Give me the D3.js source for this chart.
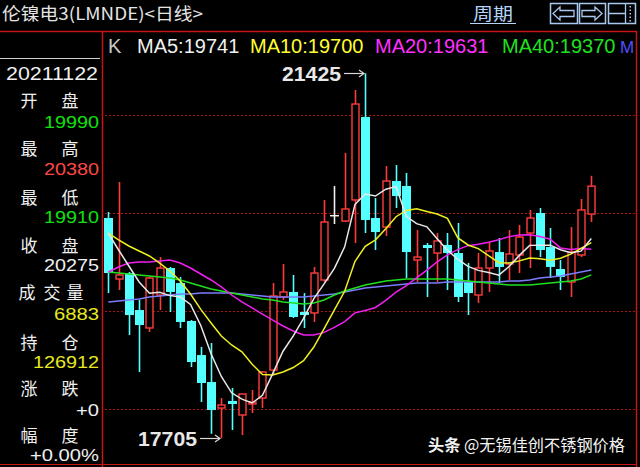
<!DOCTYPE html>
<html><head><meta charset="utf-8">
<script src="https://cdn.jsdelivr.net/npm/d3@7"></script>
<style>
html,body{margin:0;padding:0;background:#000;}
svg{display:block;}
</style></head><body>
<svg id="c" width="640" height="467"></svg>
<script>
// ---- data ----
const days = d3.range(1, 49);
const opens  = [19950,19328,19389,19012,18829,19165,19440,19287,18900,18553,18278,18013,18085,17942,18054,18115,18400,19145,19196,18992,18982,19318,19981,19919,20134,20980,19950,19858,20327,20276,19522,19675,19593,19675,19593,19298,19165,19440,19603,19481,19573,19797,20001,19654,19430,19298,19573,19990];
const highs  = [20011,20317,19400,19114,19350,19552,19451,19349,18910,18635,18676,18115,18217,18160,18197,18390,19287,19481,19369,19185,19451,20134,20276,20613,21255,21425,20154,20480,20490,20409,19828,19695,19797,19797,19899,19491,19593,19705,19746,19828,19879,20032,20052,19848,19522,19858,20144,20380];
const lows   = [19185,19216,18757,18380,18788,19012,18992,18829,18431,18074,17750,17705,17789,17738,17962,18013,18350,19114,18931,18829,18890,19298,19889,19909,19695,19797,19624,19767,20052,19338,19298,19145,19298,19216,19094,18961,19084,19196,19287,19318,19389,19440,19552,19338,19216,19145,19552,19910];
const closes = [19389,19369,18961,18859,19338,19440,19196,18890,18482,18268,17993,18044,18054,18156,18074,18380,19155,19196,18941,18961,19389,19909,19981,20042,21112,19930,19807,20327,20174,19603,19552,19644,19716,19593,19145,19185,19440,19614,19451,19583,19756,19950,19624,19451,19349,19603,20032,20275];
const ma5  = [19797,19624,19461,19298,19183,19193,19159,19145,19069,18855,18566,18335,18168,18103,18064,18142,18364,18592,18749,18927,19128,19279,19436,19656,20087,20195,20174,20244,20270,19968,19893,19860,19738,19622,19530,19457,19416,19395,19367,19455,19569,19671,19673,19673,19626,19595,19612,19741];
const ma10 = [19797,19726,19665,19614,19563,19491,19410,19308,19175,19019,18880,18747,18656,18586,18460,18354,18350,18380,18426,18495,18635,18822,19014,19203,19507,19662,19727,19840,19963,20027,20044,20017,19991,19946,19749,19675,19638,19567,19494,19492,19513,19543,19534,19520,19540,19582,19641,19700];
const ma20 = [19400,19451,19491,19501,19501,19512,19522,19491,19440,19379,19318,19247,19165,19094,19033,18971,18910,18849,18798,18757,18757,18784,18835,18894,18983,19008,19038,19110,19195,19261,19339,19419,19502,19574,19628,19668,19682,19703,19729,19760,19778,19780,19762,19733,19645,19628,19640,19631];
const ma40 = [19400,19389,19379,19369,19359,19349,19338,19318,19287,19257,19226,19206,19185,19165,19145,19124,19114,19094,19084,19073,19084,19114,19165,19206,19236,19267,19287,19308,19318,19328,19328,19328,19328,19328,19318,19308,19298,19287,19277,19267,19267,19267,19277,19287,19298,19308,19328,19370];
const ma60 = [19094,19104,19114,19124,19145,19155,19165,19175,19175,19185,19185,19185,19185,19175,19165,19155,19145,19145,19145,19145,19155,19165,19175,19196,19216,19236,19247,19257,19267,19277,19287,19287,19287,19298,19298,19298,19298,19298,19298,19308,19308,19318,19338,19349,19359,19379,19400,19420];
const gridPrices = [18000, 19000, 20000, 21000];
const legendItems = [
  {t:"K", c:"#c8c8c8"},
  {t:"MA5:19741", c:"#f0f0f0"},
  {t:"MA10:19700", c:"#ffff30"},
  {t:"MA20:19631", c:"#ff30ff"},
  {t:"MA40:19370", c:"#20e020"},
  {t:"M", c:"#5050ff"}
];
const infoLabels = ["开盘","最高","最低","收盘","成交量","持仓","涨跌","幅度"];
const infoValues = ["19990","20380","19910","20275","6883","126912","+0","+0.00%"];
const infoDate = "20211122";
const title = "伦镍电3(LMNDE)<日线>";

// ---- scales ----
const svg = d3.select("#c");
const x = d3.scalePoint().domain(d3.range(48)).range([108.3, 591.3]);
const y = d3.scaleLinear().domain([18000, 21000]).range([409.3, 115]);

svg.append("rect").attr("width",640).attr("height",467).attr("fill","#000");

// title
svg.append("text").attr("x",2).attr("y",19.8).attr("fill","#e4e4e4")
  .attr("font-family","Noto Sans CJK SC").attr("font-size",17)
  .attr("textLength",201).attr("lengthAdjust","spacingAndGlyphs").text(title);
// 周期
svg.append("text").attr("x",473).attr("y",20).attr("fill","#b4d4fa")
  .attr("font-family","Noto Sans CJK SC").attr("font-size",17)
  .attr("textLength",40).attr("lengthAdjust","spacingAndGlyphs").text("周期");
svg.append("line").attr("x1",470).attr("x2",516).attr("y1",23.5).attr("y2",23.5)
  .attr("stroke","#b4d4fa").attr("stroke-width",1.2);
// buttons
const btnC = "#a8c8f0";
[[550,577],[579,605],[608,635]].forEach(b=>{
  svg.append("rect").attr("x",b[0]+0.5).attr("y",3.5).attr("width",b[1]-b[0]).attr("height",20)
    .attr("fill","none").attr("stroke",btnC).attr("stroke-width",1.5);
});
svg.append("path").attr("d","M553,13.5 L560,7 L560,10.5 L574,10.5 L574,16.5 L560,16.5 L560,20 Z")
  .attr("fill","none").attr("stroke",btnC).attr("stroke-width",1.3);
svg.append("path").attr("d","M602,13.5 L595,7 L595,10.5 L582,10.5 L582,16.5 L595,16.5 L595,20 Z")
  .attr("fill","none").attr("stroke",btnC).attr("stroke-width",1.3);
svg.append("path").attr("d","M625.5,4 L625.5,23 M609,13.5 L625,13.5")
  .attr("fill","none").attr("stroke",btnC).attr("stroke-width",1.3);
[6,9.5,13,16.5,20].forEach(d=>svg.append("rect").attr("x",629.5).attr("y",d).attr("width",1.5).attr("height",1.5).attr("fill",btnC));

// frame lines
const frameC = "#c81414";
svg.append("line").attr("x1",0).attr("x2",637).attr("y1",31.5).attr("y2",31.5).attr("stroke",frameC).attr("stroke-width",1.5);
svg.append("line").attr("x1",102.5).attr("x2",102.5).attr("y1",31).attr("y2",467).attr("stroke",frameC).attr("stroke-width",1.5);
svg.append("line").attr("x1",636.5).attr("x2",636.5).attr("y1",31).attr("y2",467).attr("stroke",frameC).attr("stroke-width",1.5);
svg.append("line").attr("x1",0).attr("x2",637).attr("y1",464.5).attr("y2",464.5).attr("stroke",frameC).attr("stroke-width",1.2);
svg.append("line").attr("x1",0).attr("x2",100).attr("y1",58.5).attr("y2",58.5).attr("stroke","#d0d0d0").attr("stroke-width",1);

// gridlines
svg.append("g").selectAll("line").data(gridPrices).join("line")
  .attr("x1",105).attr("x2",636).attr("y1",d=>Math.round(y(d))+0.5).attr("y2",d=>Math.round(y(d))+0.5)
  .attr("stroke","#b01010").attr("stroke-width",1.2).attr("stroke-dasharray","2,2");

// legend (natural widths at 20px)
const legX = [108,137,250,375,502,620];
const legS = [20,20,20,20,20,17];
legendItems.forEach((it,i)=>{
  svg.append("text").attr("x",legX[i]).attr("y",52.5).attr("fill",it.c)
    .attr("font-family","Liberation Sans, Arial").attr("font-size",legS[i]).text(it.t);
});

// left info panel
const cjk = "Noto Sans CJK SC";
svg.append("text").attr("x",98).attr("y",80).attr("text-anchor","end").attr("fill","#f0f0f0")
  .attr("font-family","Liberation Sans, Arial").attr("font-size",19)
  .attr("textLength",92).attr("lengthAdjust","spacingAndGlyphs").text(infoDate);
const labelY = [99,147,196,244,291,341,387,434];
const valueY = [120,167,215,263,312,360,408,453];
const valueC = ["#10e010","#ff4848","#10e010","#f0f0f0","#e8e820","#e8e820","#f0f0f0","#f0f0f0"];
const valueW = [55,55,55,55,45,66,23,69];
infoLabels.forEach((lab,i)=>{
  const chars = Array.from(lab);
  const xs = chars.length===3 ? [27,52,75] : [29,70];
  chars.forEach((ch,j)=>{
    svg.append("text").attr("x",xs[j]).attr("y",labelY[i]).attr("text-anchor","middle")
      .attr("dominant-baseline","central").attr("fill","#f0f0f0")
      .attr("font-family",cjk).attr("font-size",17).text(ch);
  });
  svg.append("text").attr("x",99).attr("y",valueY[i]+8).attr("text-anchor","end")
    .attr("fill",valueC[i]).attr("font-family","Liberation Sans, Arial").attr("font-size",16)
    .attr("textLength",valueW[i]).attr("lengthAdjust","spacingAndGlyphs").text(infoValues[i]);
});

// plot group with clip
svg.append("clipPath").attr("id","pc").append("rect").attr("x",104).attr("y",33).attr("width",532).attr("height",430);
const g = svg.append("g").attr("clip-path","url(#pc)");

const cdata = days.map((d,i)=>({i, o:opens[i], h:highs[i], l:lows[i], c:closes[i]}));
const colUp = "#ff3c3c", colDn = "#54ffff", colEq = "#f0f0f0";
const col = d => d.c > d.o ? colUp : (d.c < d.o ? colDn : colEq);
const cx = d => Math.round(x(d.i)) + 0.5;

// wicks
g.append("g").selectAll("line").data(cdata).join("line")
  .attr("x1",cx).attr("x2",cx).attr("y1",d=>y(d.h)).attr("y2",d=>y(d.l))
  .attr("stroke",col).attr("stroke-width",1.6);
// bodies
g.append("g").selectAll("rect").data(cdata).join("rect")
  .attr("x",d=> d.c>d.o ? cx(d)-3.5 : cx(d)-4.5)
  .attr("width",d=> d.c>d.o ? 7 : 9)
  .attr("y",d=>y(Math.max(d.o,d.c)))
  .attr("height",d=>Math.max(d.c===d.o?1.5:1, Math.abs(y(d.o)-y(d.c))))
  .attr("fill",d=> d.c>d.o ? "#000" : col(d))
  .attr("stroke",d=> d.c>d.o ? colUp : "none")
  .attr("stroke-width",1.4);

// MA lines
const line = d3.line().x((v,i)=>x(i)).y(v=>y(v));
[[ma60,"#7c7cff"],[ma40,"#1ee01e"],[ma20,"#f020f0"],[ma10,"#f0f020"],[ma5,"#e8e8e8"]].forEach(([arr,c])=>{
  g.append("path").attr("d",line(arr)).attr("fill","none").attr("stroke",c).attr("stroke-width",1.5);
});

// max / min annotations
const hiIdx = highs.indexOf(d3.max(highs));
const loIdx = lows.indexOf(d3.min(lows));
function annotate(idx, val) {
  const tipX = Math.round(x(idx)) - 1, ty = Math.round(y(val)) + 0.5;
  const a = svg.append("g").attr("stroke","#d8d8d8").attr("stroke-width",1.2).attr("fill","none");
  a.append("line").attr("x1",tipX-20).attr("x2",tipX).attr("y1",ty).attr("y2",ty);
  a.append("path").attr("d",`M${tipX-5},${ty-3.5} L${tipX},${ty} L${tipX-5},${ty+3.5}`);
  svg.append("text").attr("x",tipX-23).attr("y",ty+7).attr("text-anchor","end")
    .attr("fill","#e8e8e8").attr("font-family","Liberation Sans, Arial").attr("font-weight","bold")
    .attr("font-size",20).attr("textLength",59).attr("lengthAdjust","spacingAndGlyphs").text(val);
}
annotate(hiIdx, highs[hiIdx]);
annotate(loIdx, lows[loIdx]);

// watermark
const wm = svg.append("text").attr("x",428).attr("y",451).attr("fill","#f4f4f4")
  .attr("font-family",cjk).attr("font-size",16)
  .attr("textLength",197).attr("lengthAdjust","spacingAndGlyphs");
wm.append("tspan").attr("font-weight","bold").text("头条");
wm.append("tspan").text(" @无锡佳创不锈钢价格");
</script>
</body></html>
